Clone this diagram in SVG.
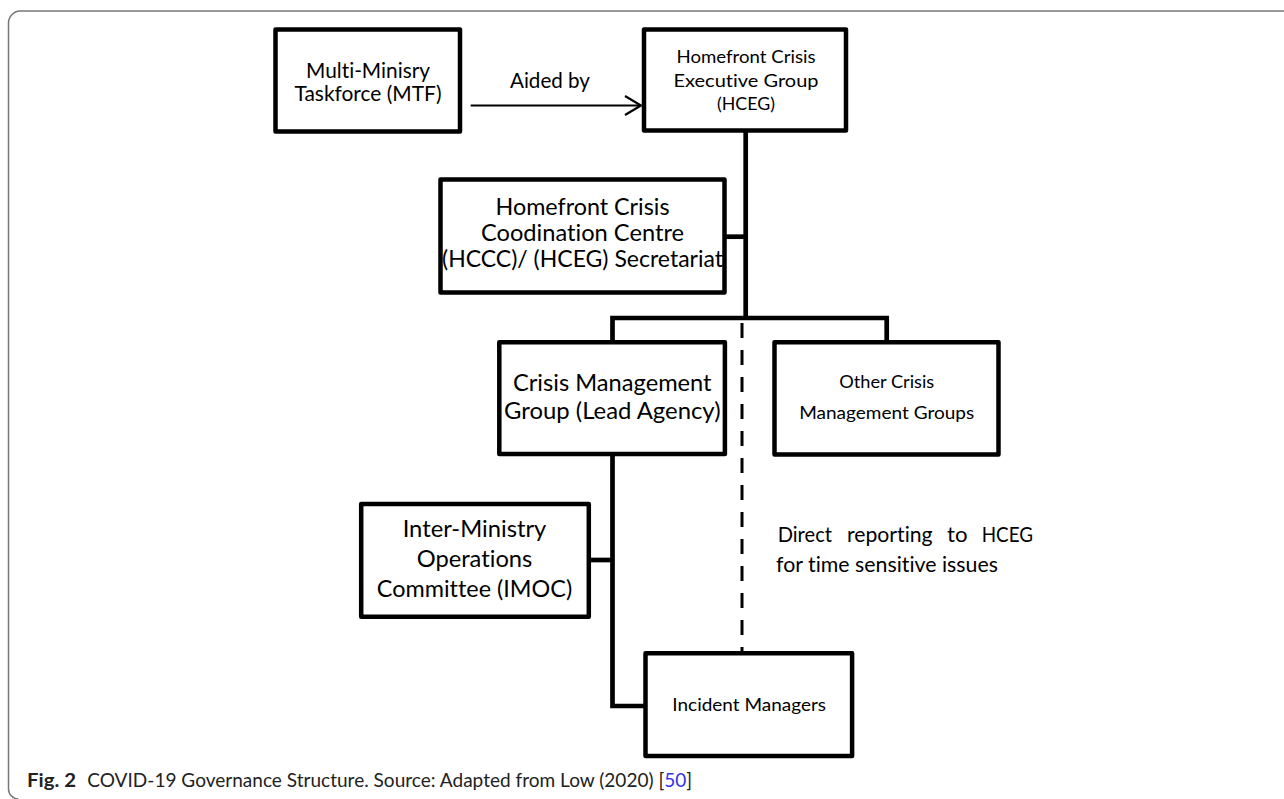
<svg xmlns="http://www.w3.org/2000/svg" width="1284" height="799" viewBox="0 0 1284 799">
<style>
.box{fill:#fff;stroke:#000;stroke-width:4.5;stroke-linejoin:round}
.con{fill:none;stroke:#000;stroke-width:4.7}
text{font-variant-ligatures:none;font-feature-settings:"liga" 0,"clig" 0}
.t{font-family:Lato,"Liberation Sans",sans-serif;fill:#000;text-anchor:middle}
.s20{font-size:18.2px}
.s22{font-size:20.4px}
.s23{font-size:20.8px;text-anchor:start}
.s25{font-size:22.8px}
.cap{font-family:Lato,"Liberation Sans",sans-serif;font-size:19px;fill:#222}
</style>
<rect width="1284" height="799" fill="#fff"/>
<path d="M1284,11 H20 A12,12 0 0 0 8.5,23 V789 A10,10 0 0 0 18.5,799" fill="none" stroke="#777" stroke-width="1.5"/>
<g id="connectors">
<path class="con" d="M745.7,132 V318"/>
<path class="con" d="M726,236.7 H745.7"/>
<path class="con" d="M612.5,341 V318 H886.7 V341"/>
<path class="con" d="M612.5,455 V706 H644"/>
<path class="con" d="M590,560 H612.5"/>
<path d="M742,323 V652" fill="none" stroke="#000" stroke-width="3" stroke-dasharray="15 12"/>
<path d="M470.7,105.5 H640" fill="none" stroke="#000" stroke-width="2.2"/>
<polyline points="625,96 641,105.5 625,115" fill="none" stroke="#000" stroke-width="2.2"/>
<text class="t s22" x="550" y="88.3" textLength="80" lengthAdjust="spacingAndGlyphs">Aided by</text>
<text class="t s23" y="541.7"><tspan x="777.7" textLength="54.3" lengthAdjust="spacingAndGlyphs">Direct</tspan><tspan x="847" textLength="85.6" lengthAdjust="spacingAndGlyphs">reporting</tspan><tspan x="947" textLength="20.5" lengthAdjust="spacingAndGlyphs">to</tspan><tspan x="981.7" textLength="51.3" lengthAdjust="spacingAndGlyphs">HCEG</tspan></text>
<text class="t s23" x="776" y="571.7" textLength="222" lengthAdjust="spacingAndGlyphs">for time sensitive issues</text>
</g>
<g id="mtf">
<rect class="box" x="275.5" y="29.5" width="184.5" height="102"/>
<text class="t s22" x="368" y="77.7" textLength="124" lengthAdjust="spacingAndGlyphs">Multi-Minisry</text>
<text class="t s22" x="368" y="101" textLength="147" lengthAdjust="spacingAndGlyphs">Taskforce (MTF)</text>
</g>
<g id="hceg">
<rect class="box" x="644" y="29.5" width="202" height="101"/>
<text class="t s20" x="746" y="62.7" textLength="139" lengthAdjust="spacingAndGlyphs">Homefront Crisis</text>
<text class="t s20" x="746" y="86.7" textLength="145" lengthAdjust="spacingAndGlyphs">Executive Group</text>
<text class="t s20" x="746" y="110" textLength="58" lengthAdjust="spacingAndGlyphs">(HCEG)</text>
</g>
<g id="hccc">
<rect class="box" x="440.5" y="179.5" width="284" height="113"/>
<text class="t s25" x="582.5" y="215" textLength="174" lengthAdjust="spacingAndGlyphs">Homefront Crisis</text>
<text class="t s25" x="582.5" y="240.7" textLength="203" lengthAdjust="spacingAndGlyphs">Coodination Centre</text>
<text class="t s25" x="582.5" y="266.7" textLength="281" lengthAdjust="spacingAndGlyphs">(HCCC)/ (HCEG) Secretariat</text>
</g>
<g id="cmg">
<rect class="box" x="499.3" y="342.2" width="225.6" height="111.8"/>
<text class="t s25" x="612.3" y="391" textLength="198.6" lengthAdjust="spacingAndGlyphs">Crisis Management</text>
<text class="t s25" x="612.3" y="419" textLength="216.5" lengthAdjust="spacingAndGlyphs">Group (Lead Agency)</text>
</g>
<g id="other">
<rect class="box" x="774.5" y="342.2" width="224" height="112.3"/>
<text class="t s20" x="886.7" y="388.3" textLength="95" lengthAdjust="spacingAndGlyphs">Other Crisis</text>
<text class="t s20" x="886.7" y="419.3" textLength="175" lengthAdjust="spacingAndGlyphs">Management Groups</text>
</g>
<g id="imoc">
<rect class="box" x="361.2" y="504" width="227.6" height="112.8"/>
<text class="t s25" x="474.5" y="537" textLength="143.7" lengthAdjust="spacingAndGlyphs">Inter-Ministry</text>
<text class="t s25" x="474.5" y="566.7" textLength="115.6" lengthAdjust="spacingAndGlyphs">Operations</text>
<text class="t s25" x="474.5" y="596.7" textLength="195.3" lengthAdjust="spacingAndGlyphs">Committee (IMOC)</text>
</g>
<g id="im">
<rect class="box" x="645.5" y="653.3" width="206.6" height="102.7"/>
<text class="t s20" x="749.2" y="711" textLength="153.7" lengthAdjust="spacingAndGlyphs">Incident Managers</text>
</g>
<g id="caption">
<text class="cap" y="786.7"><tspan x="27" font-weight="bold" textLength="49" lengthAdjust="spacingAndGlyphs">Fig. 2</tspan><tspan x="87.3" textLength="577" lengthAdjust="spacingAndGlyphs">COVID-19 Governance Structure. Source: Adapted from Low (2020) [</tspan><tspan fill="#3333ee">50</tspan><tspan>]</tspan></text>
</g>
</svg>
